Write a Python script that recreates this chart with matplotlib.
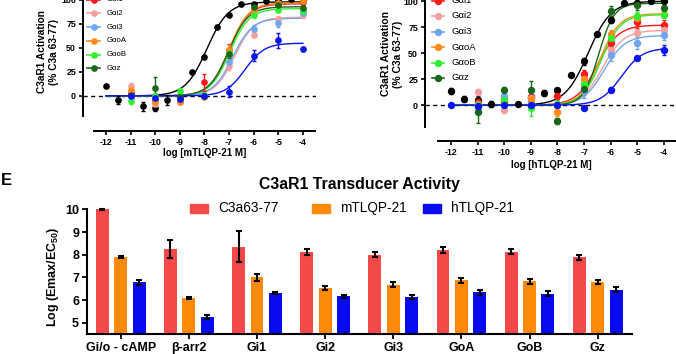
import numpy as np
import matplotlib
matplotlib.use("Agg")
import matplotlib.pyplot as plt
from matplotlib.lines import Line2D
from matplotlib.patches import Rectangle

plt.rcParams['font.family'] = ['Liberation Sans', 'DejaVu Sans']
plt.rcParams['axes.unicode_minus'] = False
plt.rcParams['mathtext.fontset'] = 'custom'
plt.rcParams['mathtext.rm'] = 'Liberation Sans'
plt.rcParams['mathtext.bf'] = 'Liberation Sans:bold'

# ---------------------------------------------------------------
# Dose-response data (top panels)
# ---------------------------------------------------------------
x_half = [-12, -11.5, -11, -10.5, -10, -9.5, -9, -8.5, -8, -7.5, -7, -6.5, -6, -5.5, -5, -4.5, -4]
x_int = [-12, -11, -10, -9, -8, -7, -6, -5, -4]

g_names = ['G\u03b1i1', 'G\u03b1i2', 'G\u03b1i3', 'G\u03b1oA', 'G\u03b1oB', 'G\u03b1z']
g_colors = ['#ff1a1a', '#f4a0a0', '#6fa6ee', '#ff8c1a', '#33ee33', '#1a661a']
c3a_color = '#000000'
arr_color = '#0a14f0'
nan = np.nan

# mTLQP-21
m_c3a = [10.4, -4.2, 1, -11, -12.5, -4.5, -3, 25, 41, 71.5, 84.5, 96, 95.5, 99, 100, 101, 100]
m_c3a_err = [0, 4, 0, 5, 3, 5, 2, 0, 0, 0, 0, 0, 0, 0, 0, 0, 0]
m_gi1 = [nan, 3, -4, -3, 14, 48, 92, 96, 98]
m_gi2 = [nan, 10, -8, -4, 0, 31, 64, 80, 84]
m_gi3 = [nan, -1, -5, -6, 1, 35, 70, 76, 86]
m_goa = [nan, 6, -6, -6, -1, 48, 90, 97, 99]
m_gob = [nan, -5, 0, 5, 1, 45, 84, 90, 89]
m_gz = [nan, 1, 8, -1, 0, 44, 93, 95, 92]
m_arr = [nan, 0, -2, -3, 0, 4.5, 42, 58, 48.5]
m_gi1_err = [0, 3, 4, 3, 9, 6, 4, 3, 3]
m_gi2_err = [0, 3, 4, 3, 2, 4, 3, 3, 3]
m_gi3_err = [0, 3, 3, 3, 2, 5, 4, 4, 3]
m_goa_err = [0, 3, 3, 3, 2, 5, 3, 3, 3]
m_gob_err = [0, 3, 3, 3, 2, 4, 3, 3, 3]
m_gz_err = [0, 3, 12, 3, 2, 5, 3, 3, 3]
m_arr_err = [0, 2, 2, 2, 2, 6, 6, 8, 2]
# fitted curves: (top, logEC50, hill)
m_fit_c3a = (98, -7.9, 1.0)
m_fit_g = [(96, -7.0, 1.1), (82, -6.78, 1.1), (81, -6.85, 1.1),
           (97, -7.0, 1.1), (91, -6.97, 1.1), (93, -7.02, 1.1)]
m_fit_arr = (55, -6.35, 1.1)

# hTLQP-21
h_c3a = [13.5, 6, 4.8, 0.8, 3, 0.8, 8, 12, 14.4, 29, 42, 68, 82, 98.5, 98.5, 100, 100]
h_c3a_err = [3, 3, 4, 3, 0, 0, 0, 3, 2, 0, 3, 0, 3, 0, 0, 0, 0]
h_gi1 = [nan, 3, 6, 8, 9, 30, 60, 80, 77.5]
h_gi2 = [nan, 12.8, -4.8, 7, 0, 18, 53, 69.5, 72]
h_gi3 = [nan, -3, 9, 4, 1, 13.5, 48, 60, 67.5]
h_goa = [nan, 1, 1.6, 6, -7, 25, 68, 84, 88]
h_gob = [nan, 0, 5, -3, 1.6, 20, 64.7, 85.6, 86.5]
h_gz = [nan, -7, 14.4, 14.4, -15, 16, 90.4, 96, 93]
h_arr = [0, -1, 0, 0, 0, -2.6, 15, 45.5, 53]
h_gi1_err = [0, 3, 3, 4, 3, 4, 4, 6, 4]
h_gi2_err = [0, 3, 3, 3, 3, 4, 4, 4, 4]
h_gi3_err = [0, 3, 3, 3, 3, 7, 6, 6, 5]
h_goa_err = [0, 3, 3, 3, 3, 4, 4, 4, 3]
h_gob_err = [0, 3, 3, 7, 3, 4, 4, 4, 3]
h_gz_err = [0, 10, 3, 9, 3, 5, 5, 4, 3]
h_arr_err = [0, 0, 0, 0, 0, 2, 2, 2, 5]
h_fit_c3a = (100, -6.85, 1.0)
h_fit_g = [(77, -6.5, 1.1), (72, -6.3, 1.1), (67, -6.25, 1.1),
           (88, -6.4, 1.2), (87, -6.35, 1.2), (98, -6.45, 1.5)]
h_fit_arr = (55, -5.6, 1.1)

# ---------------------------------------------------------------
# Transducer activity (panel E)
# ---------------------------------------------------------------
e_groups = ['Gi/o - cAMP', '\u03b2-arr2', 'Gi1', 'Gi2', 'Gi3', 'GoA', 'GoB', 'Gz']
e_labels = ['C3a63-77', 'mTLQP-21', 'hTLQP-21']
e_colors = ['#f54848', '#ff8a0a', '#0a0af0']
e_c3a = [10.0, 8.26, 8.36, 8.13, 8.0, 8.2, 8.14, 7.89]
e_c3a_err = [0.02, 0.4, 0.68, 0.12, 0.12, 0.13, 0.12, 0.12]
e_m = [7.91, 6.11, 7.0, 6.54, 6.68, 6.87, 6.83, 6.8]
e_m_err = [0.04, 0.04, 0.15, 0.1, 0.1, 0.1, 0.1, 0.1]
e_h = [6.78, 5.26, 6.32, 6.17, 6.14, 6.34, 6.29, 6.46]
e_h_err = [0.1, 0.08, 0.03, 0.08, 0.1, 0.1, 0.1, 0.1]

W, H = 676, 354
fig = plt.figure(figsize=(W / 100, H / 100), dpi=100)


def add_ax(left, top, right, bottom):
    return fig.add_axes([left / W, 1 - bottom / H, (right - left) / W, (bottom - top) / H])


def fx(px):
    return px / W


def fy(py):
    return 1 - py / H


def curve(ax, fit, color):
    top, ec, hill = fit
    xs = np.linspace(-12, -4, 300)
    ax.plot(xs, top / (1 + 10 ** (hill * (ec - xs))), color=color, lw=1.0, zorder=3)


def points(ax, xs, ys, errs, color, ms):
    ax.errorbar(xs, ys, yerr=errs, fmt='o', ms=ms, color=color, mec=color,
                elinewidth=1.0, capsize=1.6, capthick=1.0, zorder=4, clip_on=False)


def dose_panel(ax, c3a, c3a_err, fit_c3a, g_vals, g_errs, g_fits, arr, arr_err, fit_arr,
               xlabel, xlim_left, offset, ms):
    ax.axhline(0, color='black', lw=1.0, ls=(0, (3, 2.5)), zorder=1)
    curve(ax, fit_c3a, c3a_color)
    points(ax, x_half, c3a, c3a_err, c3a_color, ms)
    for vals, errs, fit, c in zip(g_vals, g_errs, g_fits, g_colors):
        curve(ax, fit, c)
        points(ax, x_int, vals, errs, c, ms)
    curve(ax, fit_arr, arr_color)
    points(ax, x_int, arr, arr_err, arr_color, ms)

    ax.set_xlim(xlim_left, -3.47)
    ax.set_ylim(-21, 110)
    for s in ['top', 'right']:
        ax.spines[s].set_visible(False)
    ax.spines['left'].set_linewidth(1.4)
    ax.spines['bottom'].set_linewidth(1.4)
    ax.spines['bottom'].set_position(('outward', offset))
    ax.spines['bottom'].set_bounds(-12.5, -3.5)
    ax.set_xticks(range(-12, -3))
    ax.set_yticks([0, 25, 50, 75, 100])
    ax.tick_params(length=3, width=1.2, pad=2, labelsize=6.4)
    for t in ax.get_xticklabels() + ax.get_yticklabels():
        t.set_fontweight('bold')
    ax.set_xlabel(xlabel, fontsize=7, fontweight='bold', labelpad=2)


# left panel (mTLQP-21)
ax_m = add_ax(83, -9.6, 316, 116)
dose_panel(ax_m, m_c3a, m_c3a_err, m_fit_c3a,
           [m_gi1, m_gi2, m_gi3, m_goa, m_gob, m_gz],
           [m_gi1_err, m_gi2_err, m_gi3_err, m_goa_err, m_gob_err, m_gz_err],
           m_fit_g, m_arr, m_arr_err, m_fit_arr,
           'log [mTLQP-21 M]', -12.93, 11, 3.8)
ax_m.xaxis.set_label_coords((204.5 - 83) / 233, -(148 - 116) / 125.6)

# right panel (hTLQP-21)
ax_h = add_ax(425, -9.2, 678, 127)
dose_panel(ax_h, h_c3a, h_c3a_err, h_fit_c3a,
           [h_gi1, h_gi2, h_gi3, h_goa, h_gob, h_gz],
           [h_gi1_err, h_gi2_err, h_gi3_err, h_goa_err, h_gob_err, h_gz_err],
           h_fit_g, h_arr, h_arr_err, h_fit_arr,
           'log [hTLQP-21 M]', -12.98, 10, 4.3)

for xc, yc, fs in [(48, 52, 7.3), (392, 54, 7.5)]:
    fig.text(fx(xc), fy(yc), 'C3aR1 Activation\n(% C3a 63-77)', rotation=90,
             ha='center', va='center', fontsize=fs, fontweight='bold',
             multialignment='center', linespacing=1.2)

# legends of the dose-response panels
for x0, x1, xt, y0, dy, fs, ms in [(87, 100, 107, -0.4, 13.75, 5.6, 3.8),
                                   (432, 444, 452, 0.5, 15.5, 6.8, 4.3)]:
    for i, (name, c) in enumerate(zip(g_names, g_colors)):
        y = fy(y0 + i * dy)
        fig.add_artist(Line2D([fx(x0), fx((x0 + x1) / 2), fx(x1)], [y, y, y], color=c, lw=1.2,
                              marker='o', ms=ms, markevery=[1], transform=fig.transFigure))
        fig.text(fx(xt), y, name, fontsize=fs, va='center', ha='left')

# ---------------------------------------------------------------
# Panel E
# ---------------------------------------------------------------
ax_e = add_ax(86.7, 209.3, 631.7, 334.3)
idx = np.arange(len(e_groups))
width = 0.19
for k, (vals, errs, c) in enumerate(zip([e_c3a, e_m, e_h], [e_c3a_err, e_m_err, e_h_err], e_colors)):
    xpos = idx + (k - 1) * 0.27
    ax_e.bar(xpos, vals, width=width, color=c, zorder=2)
    ax_e.errorbar(xpos, vals, yerr=errs, fmt='none', ecolor='black', elinewidth=1.5,
                  capsize=2.5, capthick=1.5, zorder=3, clip_on=False)
ax_e.set_xlim(-0.5, 7.5)
ax_e.set_ylim(4.5, 10)
ax_e.set_yticks([5, 6, 7, 8, 9, 10])
ax_e.set_xticks(idx)
ax_e.set_xticklabels(e_groups)
for s in ['top', 'right']:
    ax_e.spines[s].set_visible(False)
for s in ['left', 'bottom']:
    ax_e.spines[s].set_linewidth(1.5)
ax_e.tick_params(length=3.5, width=1.3, pad=2, labelsize=9)
for t in ax_e.get_xticklabels() + ax_e.get_yticklabels():
    t.set_fontweight('bold')

fig.text(fx(53), fy(277), r'Log (Emax/EC$_{\mathbf{50}}$)', rotation=90, ha='center',
         va='center', fontsize=9, fontweight='bold')
fig.text(fx(359), fy(184), 'C3aR1 Transducer Activity', ha='center', va='center',
         fontsize=11.4, fontweight='bold')
fig.text(fx(1), fy(185), 'E', ha='left', va='baseline', fontsize=12, fontweight='bold')

# legend of panel E
for xp, lab, c in zip([190, 312, 423], e_labels, e_colors):
    fig.add_artist(Rectangle((fx(xp), fy(212.5)), 18.3 / W, 9 / H, color=c,
                             transform=fig.transFigure))
    fig.text(fx(xp + 28), fy(208), lab, ha='left', va='center', fontsize=9.8)

fig.savefig('out.png', dpi=100)
